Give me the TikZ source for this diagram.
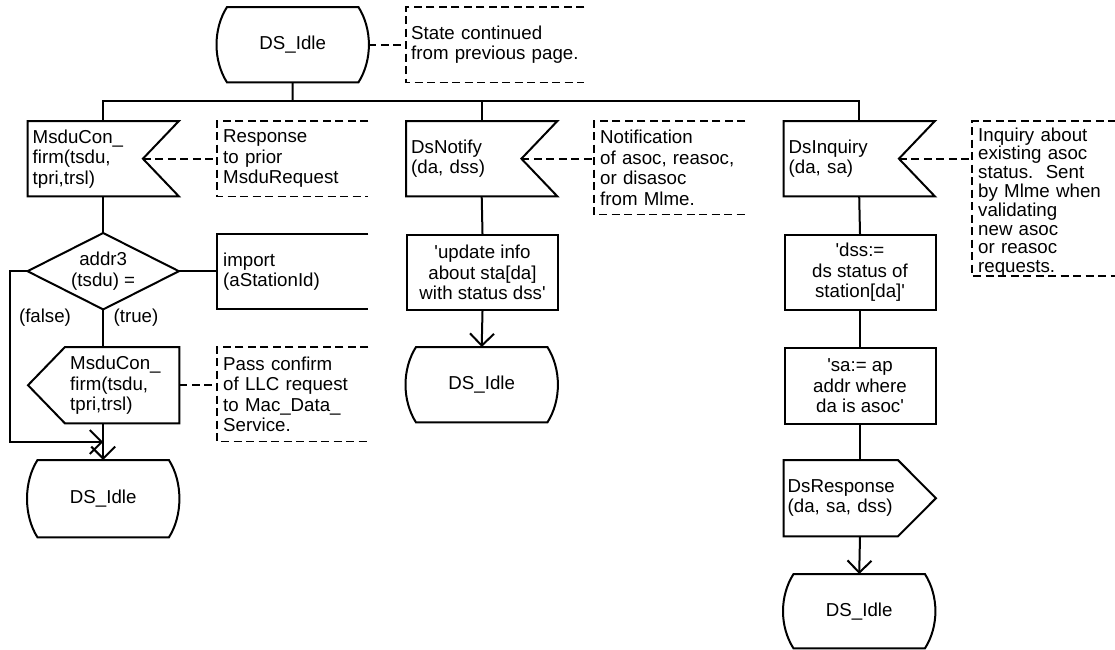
\documentclass[tikz,border=0pt]{standalone}
\usepackage{fontspec}
\setmainfont{Liberation Sans}
\usetikzlibrary{calc,arrows.meta}
\newcommand\q{\textquotesingle}
\newcommand\drawstate[1]{\draw[shp] ($(#1.north west)+(10,0)$) -- ($(#1.north east)+(-10,0)$) .. controls ($(#1.north east)+(4,22)$) and ($(#1.south east)+(4,-22)$) .. ($(#1.south east)+(-10,0)$) -- ($(#1.south west)+(10,0)$) .. controls ($(#1.south west)+(-4,-22)$) and ($(#1.north west)+(-4,22)$) .. cycle;}
\newcommand\drawinput[1]{\draw[shp] (#1.north west) -- (#1.north east) -- ($(#1.east)+(-36,0)$) coordinate (#1-notch) -- (#1.south east) -- (#1.south west) -- cycle;}
\newcommand\drawcmt[1]{\draw[dsh] (#1.north east) -- (#1.north west) -- (#1.south west) -- (#1.south east);}
\begin{document}
\begin{tikzpicture}[x=1pt,y=-1pt,
  every node/.style={font=\fontsize{18.7pt}{20.5pt}\selectfont, inner sep=0pt},
  shp/.style={line width=2pt, line join=miter},
  ln/.style={line width=2pt},
  dsh/.style={line width=1.8pt, dash pattern=on 8pt off 4.5pt},
  arr/.style={ln, -{Straight Barb[length=12pt,width=24pt]}},
  fr/.style={minimum width=151pt, minimum height=75pt},
  inbox/.style={fr, text width=141pt, align=left},
  taskbox/.style={fr, draw, shp, align=center},
  cmt/.style={minimum height=#1, text width=139pt, inner xsep=6pt, align=left},
  lbl/.style={}]
\useasboundingbox (0,0) rectangle (1115,649);

% top state
\node[fr, anchor=north west] (s0) at (217,7) {DS\_Idle};
\drawstate{s0}
\node[cmt=75pt, text width=168pt, inner xsep=5pt, anchor=north west] (c0) at (406,7) {State continued\\from previous page.};
\drawcmt{c0}
\draw[dsh] (s0.east) -- (c0.west);

% left column
\node[inbox, anchor=north west] (in1) at (27.5,121) {MsduCon\_\\firm(tsdu,\\tpri,trsl)};
\drawinput{in1}
\node[cmt=75pt, anchor=north west] (c1) at (217,121) {Response\\to prior\\MsduRequest};
\drawcmt{c1}
\draw[dsh] (in1-notch) -- (in1-notch -| c1.west);

% middle column
\node[inbox, anchor=north west] (in2) at (406,121) {DsNotify\\(da, dss)};
\drawinput{in2}
\node[cmt=93pt, anchor=north west] (c3) at (594,121) {Notification\\of asoc, reasoc,\\or disasoc\\from Mlme.};
\drawcmt{c3}
\draw[dsh] (in2-notch) -- (in2-notch -| c3.west);

% right column
\node[inbox, anchor=north west] (in3) at (783.5,121) {DsInquiry\\(da, sa)};
\drawinput{in3}
\coordinate (c4tl) at (972,121);
\coordinate (c4tr) at (1116,121);
\coordinate (c4bl) at (972,276);
\coordinate (c4br) at (1116,276);
\draw[dsh] (c4tr) -- (c4tl) -- (c4bl) -- (c4br);
\node[text width=131pt, inner xsep=6pt, align=left, anchor=west, font=\fontsize{18.7pt}{18.8pt}\selectfont] (c4) at (972,202) {Inquiry about\\existing asoc\\status.\ \ Sent\\by Mlme when\\validating\\new asoc\\or reasoc\\requests.};
\draw[dsh] (in3-notch) -- (in3-notch -| c4tl);

% bus
\coordinate (bus) at (292.5,101);
\draw[ln] (s0.south) -- (bus);
\draw[ln] (in1.north) |- (bus) -| (in3.north);
\draw[ln] (in2.north) -- (in2.north |- bus);

% decision
\node[minimum width=151pt, minimum height=76pt, align=center, anchor=north west] (dec) at (27.5,233) {addr3\\(tsdu) =};
\draw[shp] (dec.north) -- (dec.east) -- (dec.south) -- (dec.west) -- cycle;
\draw[ln] (in1.south) -- (dec.north);
\node[cmt=75pt, anchor=north west] (imp) at (217,234) {import\\(aStationId)};
\draw[shp] (imp.north east) -- (imp.north west) -- (imp.south west) -- (imp.south east);
\draw[ln] (dec.east) -- (dec.east -| imp.west);
\node[lbl] (lfalse) at (45,318) {(false)};
\node[lbl] (ltrue) at (136,318) {(true)};

% output signal left
\node[minimum width=114pt, minimum height=76pt, text width=104pt, align=left, anchor=north west] (out1) at (65,347) {MsduCon\_\\firm(tsdu,\\tpri,trsl)};
\draw[shp] (out1.north west) -- (out1.north east) -- (out1.south east) -- (out1.south west) -- ($(out1.west)+(-37,0)$) -- cycle;
\draw[ln] (dec.south) -- (dec.south |- out1.north);
\node[cmt=94pt, anchor=north west] (c2) at (217,347) {Pass confirm\\of LLC request\\to Mac\_Data\_\\Service.};
\drawcmt{c2}
\draw[dsh] (out1.east) -- (out1.east -| c2.west);

\node[fr, minimum height=77pt, anchor=north west] (s1) at (27.5,460) {DS\_Idle};
\drawstate{s1}
\draw[arr] (dec.south |- out1.south) -- (s1.north);
\coordinate (fc) at (10,442);
\draw[arr] (dec.west) -| (fc) -- (fc -| s1.north);

% middle
\node[taskbox, anchor=north west] (t1) at (406,234) {\q update info\\about sta[da]\\with status dss\q};
\draw[ln] (in2.south) -- (t1.north);
\node[fr, anchor=north west] (s2) at (406,347) {DS\_Idle};
\drawstate{s2}
\draw[arr] (t1.south) -- (s2.north);

% right
\node[taskbox, anchor=north west] (t2) at (783.5,234) {\q dss:=\\ds status of\\station[da]\q};
\draw[ln] (in3.south) -- (t2.north);
\node[taskbox, minimum height=76pt, anchor=north west] (t3) at (783.5,347) {\q sa:= ap\\addr where\\da is asoc\q};
\draw[ln] (t2.south) -- (t3.north);
\node[minimum width=114pt, minimum height=76pt, text width=106pt, align=left, anchor=north west] (out2) at (783.5,460) {DsResponse\\(da, sa, dss)};
\draw[shp] (out2.north west) -- (out2.north east) -- ($(out2.east)+(38,0)$) -- (out2.south east) -- (out2.south west) -- cycle;
\draw[ln] (t3.south) -- (t3.south |- out2.north);
\node[fr, minimum height=74pt, anchor=north west] (s3) at (783.5,574) {DS\_Idle};
\drawstate{s3}
\draw[arr] (t3.south |- out2.south) -- (s3.north);
\end{tikzpicture}
\end{document}
